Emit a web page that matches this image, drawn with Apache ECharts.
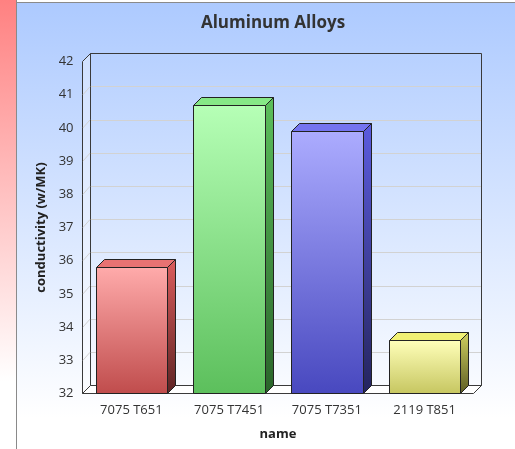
<!DOCTYPE html>
<html lang="en">
<head>
<meta charset="utf-8">
<title>Aluminum Alloys</title>
<script src="https://cdn.jsdelivr.net/npm/echarts@6/dist/echarts.min.js"></script>
<style>
html, body { margin: 0; padding: 0; background: #fff; }
#chart { width: 515px; height: 449px; }
</style>
</head>
<body>
<div id="chart"></div>
<script>
var categories = ['7075 T651', '7075 T7451', '7075 T7351', '2119 T851'];
var conductivity = [35.8, 40.7, 39.9, 33.6];
var yMin = 32, yMax = 42, yStep = 1;

// front top, front bottom, side top, side bottom, top face
var palette = [
    ['#ffabab', '#c04c4c', '#dc5c5c', '#5e2424', '#e87272'],
    ['#b6ffb6', '#5cbf5c', '#5cc05c', '#2a642a', '#86e886'],
    ['#acacff', '#4848bf', '#5c5ce0', '#24245e', '#7474f0'],
    ['#ffffba', '#c6c660', '#d0d060', '#5e5e24', '#f0f074']
];
var DX = 8, DY = -8;   // 3d depth offset

function vgrad(a, b) {
    return new echarts.graphic.LinearGradient(0, 0, 0, 1, [
        { offset: 0, color: a }, { offset: 1, color: b }
    ]);
}

// walls + floor of the 3d box
function renderFrame(params, api) {
    var cs = params.coordSys;
    var x0 = cs.x, y0 = cs.y, x1 = cs.x + cs.width, y1 = cs.y + cs.height;
    var line = '#3a3a3a';
    var kids = [];
    kids.push({ type: 'rect', shape: { x: x0 + DX, y: y0 + DY, width: cs.width, height: cs.height },
        style: { fill: null, stroke: line, lineWidth: 1 } });
    kids.push({ type: 'polygon', shape: { points: [[x0, y0], [x0 + DX, y0 + DY], [x0 + DX, y1 + DY], [x0, y1]] },
        style: { fill: 'rgba(255,255,255,0.35)', stroke: line, lineWidth: 1 } });
    for (var v = yMin + yStep; v < yMax; v += yStep) {
        var p = api.coord([0, v]);
        kids.push({ type: 'line', shape: { x1: x0 + 0.5, y1: p[1], x2: x0 + DX - 0.5, y2: p[1] + DY },
            style: { stroke: '#d2d2d2', lineWidth: 1 } });
    }
    kids.push({ type: 'polygon', shape: { points: [[x0, y1], [x0 + DX, y1 + DY], [x1 + DX, y1 + DY], [x1, y1]] },
        style: { fill: '#fff', stroke: line, lineWidth: 1 } });
    return { type: 'group', children: kids };
}

function renderBar(params, api) {
    var i = api.value(0);
    var top = api.coord([i, api.value(1)]);
    var base = api.coord([i, yMin]);
    var w = api.size([1, 0])[0] * 0.73;
    var xl = Math.round(top[0] - w / 2) + 0.5, xr = Math.round(top[0] + w / 2) + 0.5;
    var yt = Math.round(top[1]) + 0.5, yb = base[1];
    var c = palette[params.dataIndex];
    var edge = '#222';
    return {
        type: 'group',
        children: [
            { type: 'polygon', shape: { points: [[xr, yt], [xr + DX, yt + DY], [xr + DX, yb + DY], [xr, yb]] },
                style: { fill: vgrad(c[2], c[3]), stroke: edge, lineWidth: 1 } },
            { type: 'polygon', shape: { points: [[xl, yt], [xl + DX, yt + DY], [xr + DX, yt + DY], [xr, yt]] },
                style: { fill: c[4], stroke: edge, lineWidth: 1 } },
            { type: 'rect', shape: { x: xl, y: yt, width: xr - xl, height: yb - yt },
                style: { fill: vgrad(c[0], c[1]), stroke: edge, lineWidth: 1 } }
        ]
    };
}

var chart = echarts.init(document.getElementById('chart'));
var font = '"Open Sans", "DejaVu Sans", sans-serif';

chart.setOption({
    animation: false,
    textStyle: { fontFamily: font },
    graphic: [
        { type: 'rect', z: -10, shape: { x: 0, y: 0, width: 515, height: 449 }, style: { fill: '#fff' } },
        { type: 'rect', z: -10, shape: { x: 17, y: 3, width: 498, height: 446 },
            style: { fill: new echarts.graphic.LinearGradient(0, 0, 0, 1, [
                { offset: 0, color: '#adcaff' }, { offset: 0.93, color: '#ffffff' }, { offset: 1, color: '#ffffff' }]) } },
        { type: 'rect', z: -10, shape: { x: 0, y: 0, width: 16, height: 449 },
            style: { fill: new echarts.graphic.LinearGradient(0, 0, 0, 1, [
                { offset: 0, color: '#ff8181' }, { offset: 0.85, color: '#ffffff' }, { offset: 1, color: '#ffffff' }]) } },
        { type: 'line', z: -9, shape: { x1: 16.5, y1: 0, x2: 16.5, y2: 449 }, style: { stroke: '#8a8a8a', lineWidth: 1 } },
        { type: 'line', z: -9, shape: { x1: 16, y1: 2.5, x2: 515, y2: 2.5 }, style: { stroke: '#8a8a8a', lineWidth: 1 } }
    ],
    title: {
        text: 'Aluminum Alloys',
        left: 268,
        textAlign: 'center',
        top: 10,
        textStyle: { fontFamily: font, fontSize: 17, fontWeight: 'bold', color: '#333' }
    },
    grid: [
        { left: 82.5, top: 61.5, width: 391, height: 332 },
        { left: 90.5, top: 53.5, width: 391, height: 332 }
    ],
    xAxis: [
        {
            gridIndex: 0, type: 'category', data: categories,
            axisLine: { show: false }, axisTick: { show: false },
            axisLabel: { color: '#333', fontSize: 13, margin: 10, fontFamily: font },
            name: 'name', nameLocation: 'middle', nameGap: 34,
            nameTextStyle: { color: '#222', fontSize: 13, fontWeight: 'bold', fontFamily: font }
        },
        {
            gridIndex: 1, type: 'category', data: categories,
            axisLine: { show: false }, axisTick: { show: false }, axisLabel: { show: false }
        }
    ],
    yAxis: [
        {
            gridIndex: 0, type: 'value', min: yMin, max: yMax, interval: yStep,
            axisLine: { show: false }, axisTick: { show: false }, splitLine: { show: false },
            axisLabel: { color: '#333', fontSize: 13, margin: 9, fontFamily: font },
            name: 'conductivity (w/MK)', nameLocation: 'middle', nameGap: 31,
            nameTextStyle: { color: '#222', fontSize: 13, fontWeight: 'bold', fontFamily: font }
        },
        {
            gridIndex: 1, type: 'value', min: yMin, max: yMax, interval: yStep,
            axisLine: { show: false }, axisTick: { show: false }, axisLabel: { show: false },
            splitLine: { show: true, lineStyle: { color: '#d2d2d2', width: 1 } }
        }
    ],
    series: [
        {
            type: 'custom', xAxisIndex: 0, yAxisIndex: 0, z: 1,
            renderItem: renderFrame,
            data: [[0, yMin]],
            silent: true
        },
        {
            type: 'custom', xAxisIndex: 0, yAxisIndex: 0, z: 2,
            renderItem: renderBar,
            encode: { x: 0, y: 1 },
            data: conductivity.map(function (v, i) { return [i, v]; })
        }
    ]
});
</script>
</body>
</html>
